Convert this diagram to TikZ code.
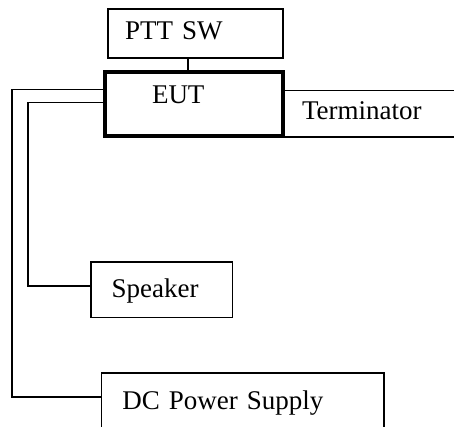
\documentclass[tikz,border=0pt]{standalone}
\usepackage{fontspec}
\setmainfont{Liberation Serif}

\begin{document}
\begin{tikzpicture}[
  x=1pt,y=-1pt,
  font=\fontsize{27}{32}\selectfont,
  box/.style={draw,line width=1.3pt,anchor=north west,outer sep=0pt,
    inner ysep=0pt,align=left,text height=19pt},
  wire/.style={draw,line width=1.3pt}
]
\useasboundingbox (0,0) rectangle (454,426);
\node[box,minimum height=49pt,inner xsep=17pt,text width=141pt,
  text depth=7pt] (ptt) at (108,9) {PTT SW};
\node[box,minimum height=46.3pt,inner xsep=19pt,text width=162pt,
  text depth=8.7pt] (term) at (283,90.7) {Terminator};
\node[box,line width=4pt,minimum height=64.3pt,inner xsep=47.5pt,
  text width=83.5pt,text depth=19.4pt] (eut) at (104.5,72) {EUT};
\node[box,minimum height=55.3pt,inner xsep=20.7pt,text width=100.3pt,
  text depth=4.3pt] (spk) at (91,262) {Speaker};
\node[box,minimum height=58pt,inner xsep=20.6pt,text width=241.1pt,
  text depth=5pt] (dc) at (101.7,373) {DC Power Supply};
\coordinate (outer) at (12,397);
\coordinate (inner) at (28,286);
\draw[wire] ([xshift=-7.5pt]ptt.south) -- ([xshift=-7.5pt]ptt.south |- eut.north);
\draw[wire] ([yshift=15pt]eut.west) -| (outer) -- (outer -| dc.west);
\draw[wire] ([yshift=2pt]eut.west) -| (inner) -- (inner -| spk.west);
\end{tikzpicture}
\end{document}
